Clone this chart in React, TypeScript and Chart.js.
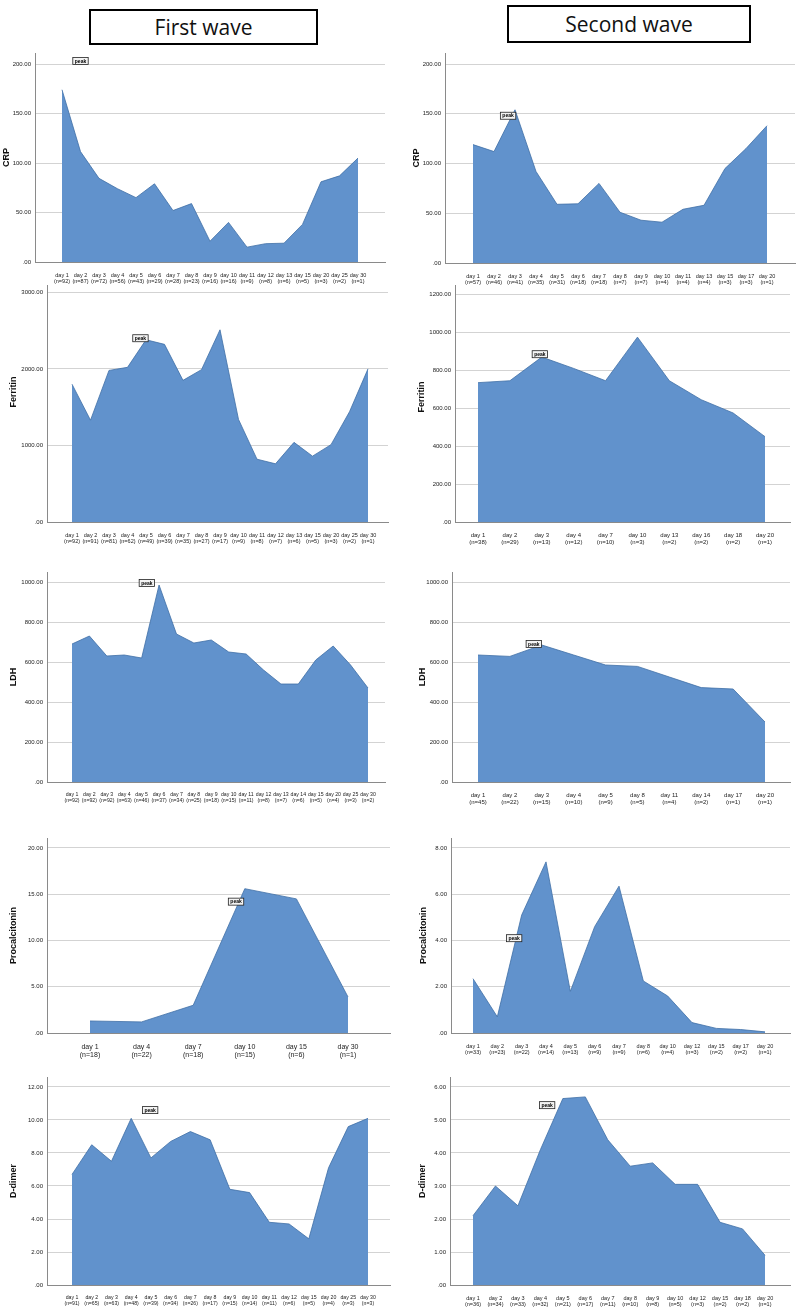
import React, { useEffect, useRef } from "react";
import { Chart, registerables } from "chart.js";
Chart.register(...registerables);

// ---------- DATA ----------
const crp1Labels = ["day 1","day 2","day 3","day 4","day 5","day 6","day 7","day 8","day 9","day 10","day 11","day 12","day 13","day 15","day 20","day 25","day 30"];
const crp1N = [92,87,72,56,43,29,28,23,16,16,9,8,6,5,3,2,1];
const crp1Values = [174,111.5,84.5,74,65,79,52,59,21,40,15,18.5,19,38,81,87,105];

const crp2Labels = ["day 1","day 2","day 3","day 4","day 5","day 6","day 7","day 8","day 9","day 10","day 11","day 13","day 15","day 17","day 20"];
const crp2N = [57,46,41,35,31,18,18,7,7,4,4,4,3,3,1];
const crp2Values = [119,112,154,92,59,59.5,80,51,43,41,54,58,95,115,138];

const fer1Labels = ["day 1","day 2","day 3","day 4","day 5","day 6","day 7","day 8","day 9","day 10","day 11","day 12","day 13","day 15","day 20","day 25","day 30"];
const fer1N = [92,91,81,62,49,39,35,27,17,9,8,7,6,5,3,2,1];
const fer1Values = [1800,1330,1980,2020,2380,2320,1850,1990,2510,1340,820,760,1040,860,1010,1440,2000];

const fer2Labels = ["day 1","day 2","day 3","day 4","day 7","day 10","day 13","day 16","day 18","day 20"];
const fer2N = [38,29,13,12,10,3,2,2,2,1];
const fer2Values = [735,745,870,810,745,975,745,645,575,450];

const ldh1Labels = ["day 1","day 2","day 3","day 4","day 5","day 6","day 7","day 8","day 9","day 10","day 11","day 12","day 13","day 14","day 15","day 20","day 25","day 30"];
const ldh1N = [92,92,92,63,46,37,34,25,18,15,11,8,7,6,5,4,3,2];
const ldh1Values = [690,730,630,635,620,985,740,695,710,650,640,560,490,490,610,680,585,470];

const ldh2Labels = ["day 1","day 2","day 3","day 4","day 5","day 8","day 11","day 14","day 17","day 20"];
const ldh2N = [45,22,15,10,9,5,4,2,1,1];
const ldh2Values = [635,628,685,635,585,578,525,472,465,300];

const pct1Labels = ["day 1","day 4","day 7","day 10","day 15","day 30"];
const pct1N = [18,22,18,15,6,1];
const pct1Values = [1.3,1.2,3.0,15.6,14.5,3.9];

const pct2Labels = ["day 1","day 2","day 3","day 4","day 5","day 6","day 7","day 8","day 10","day 12","day 15","day 17","day 20"];
const pct2N = [33,23,22,14,13,9,9,6,4,3,2,2,1];
const pct2Values = [2.35,0.7,5.1,7.4,1.8,4.6,6.35,2.25,1.6,0.45,0.2,0.15,0.05];

const dd1Labels = ["day 1","day 2","day 3","day 4","day 5","day 6","day 7","day 8","day 9","day 10","day 11","day 12","day 15","day 20","day 25","day 30"];
const dd1N = [91,65,63,48,39,34,26,17,15,14,11,6,5,4,3,3];
const dd1Values = [6.7,8.5,7.5,10.1,7.7,8.7,9.3,8.8,5.8,5.6,3.8,3.7,2.8,7.1,9.6,10.1];

const dd2Labels = ["day 1","day 2","day 3","day 4","day 5","day 6","day 7","day 8","day 9","day 10","day 12","day 15","day 18","day 20"];
const dd2N = [36,34,33,32,21,17,11,10,8,5,3,2,2,1];
const dd2Values = [2.1,3.0,2.4,4.1,5.65,5.7,4.4,3.6,3.7,3.05,3.05,1.9,1.7,0.9];

const crpTicks = [0,50,100,150,200];
const fer1Ticks = [0,1000,2000,3000];
const fer2Ticks = [0,200,400,600,800,1000,1200];
const ldhTicks = [0,200,400,600,800,1000];
const pct1Ticks = [0,5,10,15,20];
const pct2Ticks = [0,2,4,6,8];
const dd1Ticks = [0,2,4,6,8,10,12];
const dd2Ticks = [0,1,2,3,4,5,6];

// peak annotation anchors [category index, value]
const crp1Peak = [1.0, 203];
const crp2Peak = [1.67, 148];
const fer1Peak = [3.7, 2400];
const fer2Peak = [1.94, 885];
const ldh1Peak = [4.3, 995];
const ldh2Peak = [1.75, 690];
const pct1Peak = [2.83, 14.2];
const pct2Peak = [1.69, 4.1];
const dd1Peak = [3.96, 10.6];
const dd2Peak = [3.3, 5.45];

// ---------- LAYOUT ----------
type Lay = { cl: number; ct: number; cw: number; ch: number; ax: number; ay: number; pr: number; pt: number; topTickPy: number; firstPx: number; lastPx: number; titleX: number; xFont: number };
type Panel = { title: string; labels: string[]; ns: number[]; values: number[]; ticks: number[]; peak: number[]; lay: Lay };

const panels: Panel[] = [
  { title: "CRP", labels: crp1Labels, ns: crp1N, values: crp1Values, ticks: crpTicks, peak: crp1Peak,
    lay: { cl: 0, ct: 0, cw: 400, ch: 285, ax: 35, ay: 262, pr: 385, pt: 53, topTickPy: 64, firstPx: 62, lastPx: 358, titleX: 7, xFont: 5.5 } },
  { title: "CRP", labels: crp2Labels, ns: crp2N, values: crp2Values, ticks: crpTicks, peak: crp2Peak,
    lay: { cl: 400, ct: 0, cw: 400, ch: 285, ax: 445, ay: 263, pr: 795, pt: 53, topTickPy: 64, firstPx: 473, lastPx: 767, titleX: 417, xFont: 5.5 } },
  { title: "Ferritin", labels: fer1Labels, ns: fer1N, values: fer1Values, ticks: fer1Ticks, peak: fer1Peak,
    lay: { cl: 0, ct: 285, cw: 400, ch: 260, ax: 47, ay: 522, pr: 388, pt: 262, topTickPy: 270, firstPx: 72, lastPx: 368, titleX: 14, xFont: 5.5 } },
  { title: "Ferritin", labels: fer2Labels, ns: fer2N, values: fer2Values, ticks: fer2Ticks, peak: fer2Peak,
    lay: { cl: 400, ct: 285, cw: 400, ch: 260, ax: 455, ay: 522, pr: 790, pt: 272, topTickPy: 282, firstPx: 478, lastPx: 765, titleX: 422, xFont: 6 } },
  { title: "LDH", labels: ldh1Labels, ns: ldh1N, values: ldh1Values, ticks: ldhTicks, peak: ldh1Peak,
    lay: { cl: 0, ct: 545, cw: 400, ch: 260, ax: 47, ay: 782, pr: 385, pt: 572, topTickPy: 582, firstPx: 72, lastPx: 368, titleX: 14, xFont: 5.2 } },
  { title: "LDH", labels: ldh2Labels, ns: ldh2N, values: ldh2Values, ticks: ldhTicks, peak: ldh2Peak,
    lay: { cl: 400, ct: 545, cw: 400, ch: 260, ax: 452, ay: 782, pr: 790, pt: 572, topTickPy: 582, firstPx: 478, lastPx: 765, titleX: 423, xFont: 6 } },
  { title: "Procalcitonin", labels: pct1Labels, ns: pct1N, values: pct1Values, ticks: pct1Ticks, peak: pct1Peak,
    lay: { cl: 0, ct: 805, cw: 400, ch: 255, ax: 47, ay: 1033, pr: 390, pt: 838, topTickPy: 848, firstPx: 90, lastPx: 348, titleX: 14, xFont: 7 } },
  { title: "Procalcitonin", labels: pct2Labels, ns: pct2N, values: pct2Values, ticks: pct2Ticks, peak: pct2Peak,
    lay: { cl: 400, ct: 805, cw: 400, ch: 255, ax: 451, ay: 1033, pr: 790, pt: 838, topTickPy: 848, firstPx: 473, lastPx: 765, titleX: 424, xFont: 5.5 } },
  { title: "D-dimer", labels: dd1Labels, ns: dd1N, values: dd1Values, ticks: dd1Ticks, peak: dd1Peak,
    lay: { cl: 0, ct: 1060, cw: 400, ch: 247, ax: 47, ay: 1285, pr: 390, pt: 1077, topTickPy: 1087, firstPx: 72, lastPx: 368, titleX: 14, xFont: 5.2 } },
  { title: "D-dimer", labels: dd2Labels, ns: dd2N, values: dd2Values, ticks: dd2Ticks, peak: dd2Peak,
    lay: { cl: 400, ct: 1060, cw: 400, ch: 247, ax: 450, ay: 1285, pr: 790, pt: 1077, topTickPy: 1087, firstPx: 473, lastPx: 765, titleX: 423, xFont: 5.5 } },
];

const FONT = 'Arial, "Liberation Sans", sans-serif';

const overlayPlugin = {
  id: "overlay",
  afterDatasetsDraw(chart: any, _a: any, opts: any) {
    const ctx = chart.ctx;
    const { peak, title, titleX, ay, pt } = opts;
    ctx.save();
    ctx.translate(titleX, (ay + pt) / 2);
    ctx.rotate(-Math.PI / 2);
    ctx.font = `bold 9px ${FONT}`;
    ctx.fillStyle = "#111";
    ctx.textAlign = "center";
    ctx.textBaseline = "middle";
    ctx.fillText(title, 0, 0);
    ctx.restore();
    const px = chart.scales.x.getPixelForValue(peak[0]);
    const py = chart.scales.y.getPixelForValue(peak[1]);
    ctx.save();
    ctx.font = `bold 5px ${FONT}`;
    const tw = ctx.measureText("peak").width;
    const w = tw + 4, h = 7;
    ctx.fillStyle = "#f4f4f4";
    ctx.fillRect(px - w / 2, py - h / 2, w, h);
    ctx.strokeStyle = "#222";
    ctx.lineWidth = 0.8;
    ctx.strokeRect(px - w / 2, py - h / 2, w, h);
    ctx.fillStyle = "#000";
    ctx.textAlign = "center";
    ctx.textBaseline = "middle";
    ctx.fillText("peak", px, py + 0.3);
    ctx.restore();
  },
};

function PanelChart({ p }: { p: Panel }) {
  const ref = useRef<HTMLCanvasElement>(null);
  useEffect(() => {
    const L = p.lay;
    const n = p.labels.length;
    const unit = (L.lastPx - L.firstPx) / (n - 1);
    const xMin = -(L.firstPx - L.ax) / unit;
    const xMax = n - 1 + (L.pr - L.lastPx) / unit;
    const topTick = p.ticks[p.ticks.length - 1];
    const pxPer = (L.ay - L.topTickPy) / topTick;
    const yMax = topTick + (L.topTickPy - L.pt) / pxPer;
    const chart = new Chart(ref.current as HTMLCanvasElement, {
      type: "line",
      data: {
        datasets: [
          {
            data: p.values.map((v, i) => ({ x: i, y: v })),
            fill: "origin",
            backgroundColor: "#6192cc",
            borderColor: "#3f6ea6",
            borderWidth: 0.8,
            pointRadius: 0,
            tension: 0,
          },
        ],
      },
      options: {
        animation: false,
        responsive: false,
        devicePixelRatio: 1,
        layout: { padding: { top: L.pt - L.ct, right: L.cl + L.cw - L.pr, left: 0, bottom: 0 } },
        plugins: {
          legend: { display: false },
          tooltip: { enabled: false },
          overlay: { peak: p.peak, title: p.title, titleX: L.titleX - L.cl, ay: L.ay - L.ct, pt: L.pt - L.ct },
        } as any,
        scales: {
          x: {
            type: "linear",
            min: xMin,
            max: xMax,
            grid: { display: false },
            border: { display: true, color: "#8a8a8a", width: 1 },
            ticks: {
              autoSkip: false,
              maxRotation: 0,
              minRotation: 0,
              padding: 2,
              color: "#222",
              font: { size: L.xFont, family: FONT, lineHeight: 1.15 },
              callback: (v: any) => {
                const i = Math.round(Number(v));
                return [p.labels[i], `(n=${p.ns[i]})`];
              },
            },
            afterBuildTicks: (s: any) => {
              s.ticks = p.labels.map((_, i) => ({ value: i }));
            },
            afterFit: (s: any) => {
              s.height = L.ct + L.ch - L.ay;
              s.paddingLeft = 0;
              s.paddingRight = 0;
            },
          },
          y: {
            type: "linear",
            min: 0,
            max: yMax,
            grid: { color: "#d3d3d3", drawTicks: false, lineWidth: 1 },
            border: { display: true, color: "#8a8a8a", width: 1 },
            ticks: {
              padding: 4,
              color: "#222",
              font: { size: 6, family: FONT },
              callback: (v: any) => (Number(v) === 0 ? ".00" : Number(v).toFixed(2)),
            },
            afterBuildTicks: (s: any) => {
              s.ticks = p.ticks.map((v) => ({ value: v }));
            },
            afterFit: (s: any) => {
              s.width = L.ax - L.cl;
              s.paddingTop = 0;
              s.paddingBottom = 0;
            },
          },
        },
      },
      plugins: [overlayPlugin as any],
    });
    return () => chart.destroy();
  }, [p]);
  const L = p.lay;
  return (
    <canvas
      ref={ref}
      width={L.cw}
      height={L.ch}
      style={{ position: "absolute", left: L.cl, top: L.ct, width: L.cw, height: L.ch }}
    />
  );
}

export default function App() {
  const boxStyle: React.CSSProperties = {
    position: "absolute",
    boxSizing: "border-box",
    border: "2px solid #000",
    display: "flex",
    alignItems: "center",
    justifyContent: "center",
    fontFamily: '"Open Sans", "Noto Sans", sans-serif',
    color: "#111",
    background: "#fff",
  };
  return (
    <div style={{ position: "absolute", left: 0, top: 0, width: 800, height: 1307, background: "#fff", overflow: "hidden" }}>
      {panels.map((p, i) => (
        <PanelChart key={i} p={p} />
      ))}
      <div style={{ ...boxStyle, left: 89, top: 9, width: 229, height: 36, fontSize: 21 }}>First wave</div>
      <div style={{ ...boxStyle, left: 507, top: 5, width: 244, height: 38, fontSize: 21 }}>Second wave</div>
    </div>
  );
}
